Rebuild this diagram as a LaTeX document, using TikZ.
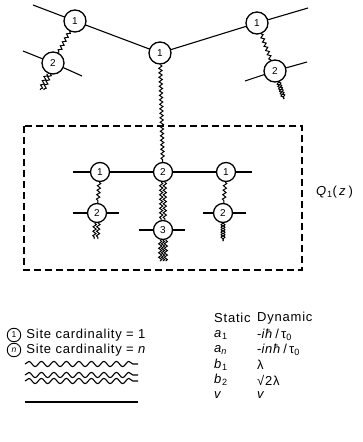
\documentclass[tikz,border=0pt]{standalone}
\usepackage{fontspec}
\setmainfont{Liberation Sans}
\newfontfamily\legendfont{Liberation Sans}[LetterSpace=6]
\usepackage{tikz}
\usetikzlibrary{decorations.pathmorphing,positioning}

\begin{document}
\begin{tikzpicture}[x=1pt,y=-1pt]
	\tikzstyle{site} = [circle, draw=black, line width=1.3pt, fill=white, minimum size=22pt, inner sep=0pt, font=\fontsize{10}{10}\selectfont]
	\tikzstyle{smallSite} = [site, minimum size=19pt]
	\tikzstyle{keySite} = [site, line width=0.9pt, minimum size=13.5pt, font=\fontsize{8.5}{8.5}\selectfont]
	\tikzstyle{bond} = [line width=1.1pt]
	\tikzstyle{wiggle} = [line width=1pt, decorate, decoration={snake, segment length=4.5pt, amplitude=1.6pt}]
	\tikzstyle{twist} = [line width=1pt, decorate, decoration={snake, segment length=5pt, amplitude=2pt}]
	\tikzstyle{twistBack} = [twist, decoration={mirror}]
	\tikzstyle{legendWave} = [line width=1.1pt, decorate, decoration={snake, segment length=12.5pt, amplitude=2.6pt}]
	\tikzstyle{legend} = [anchor=west, inner sep=0pt, font=\legendfont\fontsize{13}{15}\selectfont]
	\useasboundingbox (0,0) rectangle (363,442);
	% sites
	\node (tlOne) [site] at (75,21) {1};
	\node (tlTwo) [site] at (53,63) {2};
	\node (cOne) [site] at (160,53) {1};
	\node (trOne) [site] at (257,23) {1};
	\node (trTwo) [site] at (275,71) {2};
	\node (inOne) [smallSite] at (100,172) {1};
	\node (inTwo) [smallSite] at (163,172) {2};
	\node (inThree) [smallSite] at (226,172) {1};
	\node (lowLeft) [smallSite] at (97,213) {2};
	\node (lowMid) [smallSite] at (163,230) {3};
	\node (lowRight) [smallSite] at (223,213) {2};
	% free ends
	\coordinate (tlA) at (33,5);
	\coordinate (trA) at (308,8);
	\coordinate (tlTwoA) at (23,51);
	\coordinate (tlTwoB) at (82,76);
	\coordinate (tlTwoEnd) at (42,90);
	\coordinate (trTwoA) at (245,81);
	\coordinate (trTwoB) at (307,62);
	\coordinate (trTwoEnd) at (284,99);
	\coordinate (rowA) at (73,172);
	\coordinate (rowB) at (252,172);
	\coordinate (lowLeftA) at (73,213);
	\coordinate (lowLeftB) at (119,213);
	\coordinate (lowLeftEnd) at (96,239);
	\coordinate (lowMidA) at (139,230);
	\coordinate (lowMidB) at (185,230);
	\coordinate (lowMidEnd) at (163,261);
	\coordinate (lowRightA) at (203,213);
	\coordinate (lowRightB) at (246,213);
	\coordinate (lowRightEnd) at (223,241);
	% Q_1(z) box
	\draw [line width=1.2pt, dash pattern=on 7pt off 4pt] (24,126) rectangle (302,270);
	\node (qLabel) [legend] at (316,192) {\textit{Q}\textsubscript{1}(\,\textit{z}\,)};
	% straight bonds
	\draw [bond] (tlA) -- (tlOne) -- (cOne) -- (trOne) -- (trA);
	\draw [bond] (tlTwoA) -- (tlTwo) -- (tlTwoB);
	\draw [bond] (trTwoA) -- (trTwo) -- (trTwoB);
	\draw [bond] (rowA) -- (inOne) -- (inTwo) -- (inThree) -- (rowB);
	\draw [bond] (lowLeftA) -- (lowLeft) -- (lowLeftB);
	\draw [bond] (lowMidA) -- (lowMid) -- (lowMidB);
	\draw [bond] (lowRightA) -- (lowRight) -- (lowRightB);
	% wavy bonds
	\draw [wiggle] (tlOne) -- (tlTwo);
	\draw [wiggle] (trOne) -- (trTwo);
	\draw [wiggle] (cOne) -- (inTwo);
	\draw [wiggle] (inOne) -- (lowLeft);
	\draw [wiggle] (inThree) -- (lowRight);
	\foreach \s in {-1.8,1.8} {
		\draw [wiggle, transform canvas={xshift=\s pt}] (inTwo) -- (lowMid);
		\draw [wiggle, transform canvas={xshift=\s pt}] (tlTwo) -- (tlTwoEnd);
		\draw [wiggle, transform canvas={xshift=\s pt}] (lowLeft) -- (lowLeftEnd);
	}
	\foreach \s in {-2.8,0,2.8}
		\draw [wiggle, transform canvas={xshift=\s pt}] (lowMid) -- (lowMidEnd);
	\draw [twist] (trTwo) -- (trTwoEnd);
	\draw [twistBack] (trTwo) -- (trTwoEnd);
	\draw [twist] (lowRight) -- (lowRightEnd);
	\draw [twistBack] (lowRight) -- (lowRightEnd);
	% key
	\node (staticHead) [legend] at (214,318) {Static};
	\node (dynamicHead) [legend] at (257,318) {Dynamic};
	\node (keyOne) [keySite] at (14,335) {1};
	\node (keyOneText) [legend, right=5pt of keyOne] {Site cardinality = 1};
	\node (staticOne) [legend] at (214,335) {\textit{a}\textsubscript{1}};
	\node (dynamicOne) [legend] at (257,335) {-\textit{iħ}\,/\,τ\textsubscript{0}};
	\node (keyN) [keySite] at (14,350) {\textit{n}};
	\node (keyNText) [legend, right=5pt of keyN] {Site cardinality = \textit{n}};
	\node (staticN) [legend] at (214,350) {\textit{a\textsubscript{n}}};
	\node (dynamicN) [legend] at (257,350) {-\textit{inħ}\,/\,τ\textsubscript{0}};
	\coordinate (waveA) at (25,364);
	\coordinate (waveB) at (138,364);
	\draw [legendWave] (waveA) -- (waveB);
	\node (staticB) [legend] at (214,365) {\textit{b}\textsubscript{1}};
	\node (dynamicB) [legend] at (257,365) {λ};
	\coordinate (doubleA) at (25,378);
	\coordinate (doubleB) at (138,378);
	\foreach \s in {-3,3}
		\draw [legendWave, transform canvas={yshift=\s pt}] (doubleA) -- (doubleB);
	\node (staticBB) [legend] at (214,380) {\textit{b}\textsubscript{2}};
	\node (dynamicBB) [legend] at (257,380) {√2λ};
	\coordinate (barA) at (25,402);
	\coordinate (barB) at (138,402);
	\draw [bond] (barA) -- (barB);
	\node (staticV) [legend] at (214,395) {\textit{v}};
	\node (dynamicV) [legend] at (257,395) {\textit{v}};
\end{tikzpicture}
\end{document}
